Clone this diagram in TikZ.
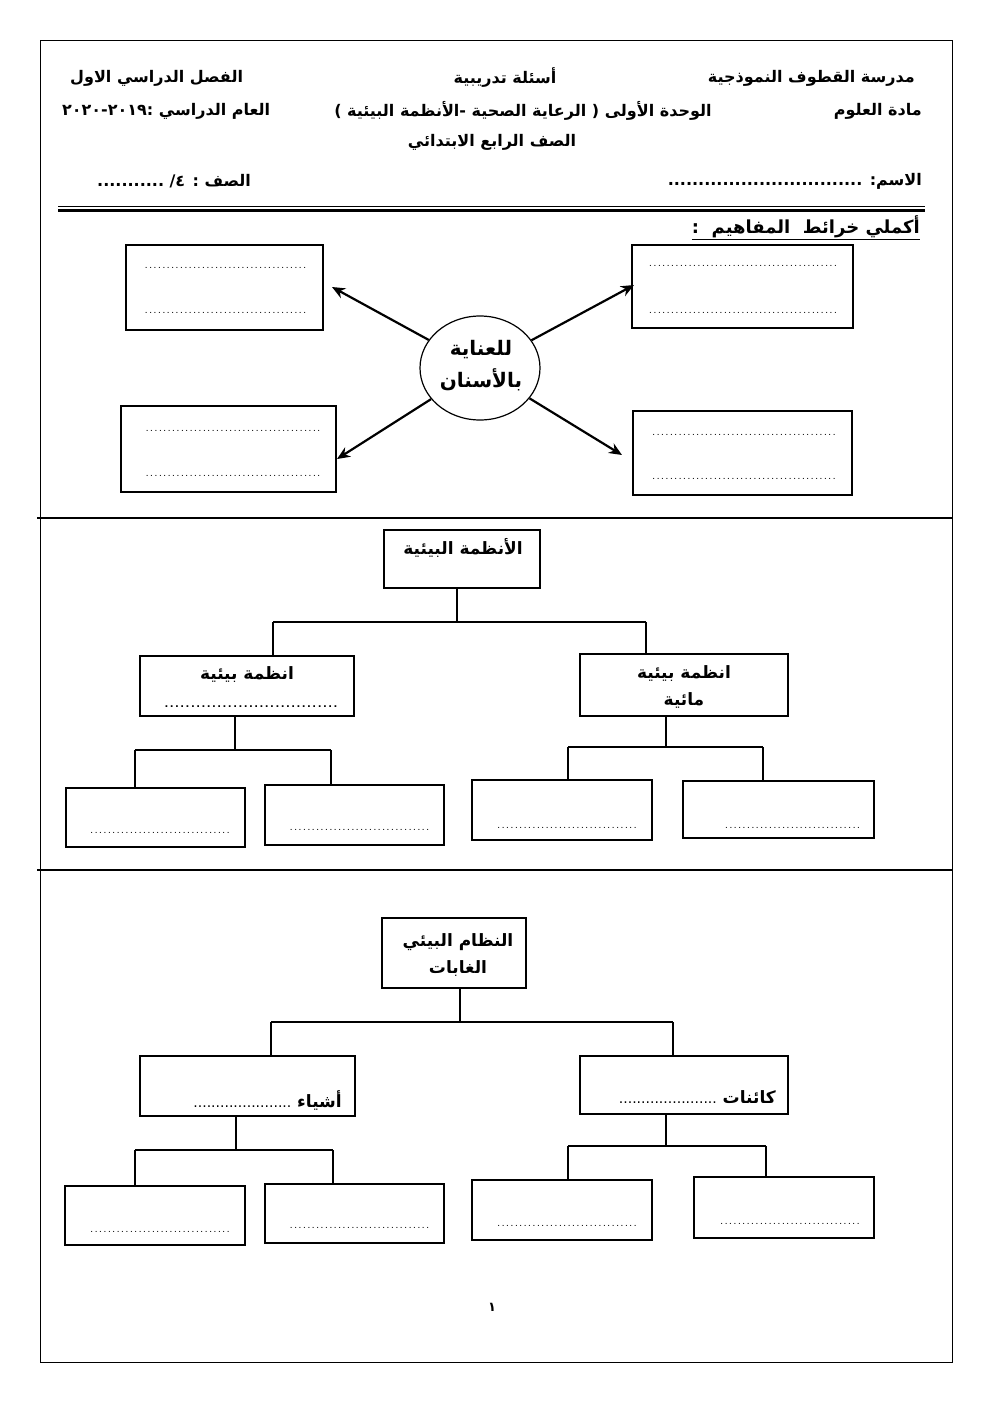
\documentclass[tikz,border=0pt]{standalone}
\usepackage{fontspec}
\setmainfont{Liberation Sans}
\newfontfamily\arfont[Script=Arabic]{DejaVu Sans}
\TeXXeTstate=1
\usetikzlibrary{arrows.meta,shapes.geometric}
\newcommand\AR[1]{{\arfont\bfseries\beginR #1\endR}}
\newcommand\dotrow[1]{{\fontsize{10}{12}\selectfont\makebox[#1]{\dotfill}}}
\newcommand\bdotrow[1]{{\fontsize{12}{14}\selectfont\bfseries\makebox[#1]{\dotfill}}}
\begin{document}
\begin{tikzpicture}[x=1pt,y=-1pt,
  box/.style={draw, line width=1.2pt, inner sep=0pt, minimum width=#1},
  box/.default=100pt,
  hdr/.style={inner sep=0pt, font=\fontsize{16}{18}\selectfont},
  lbl/.style={inner sep=0pt, align=center, font=\fontsize{17}{27}\selectfont},
  dts/.style={inner sep=0pt},
  conn/.style={line width=1.8pt},
  arr/.style={line width=2.2pt, -{Stealth[length=13pt,width=11pt]}},
  divider/.style={line width=2pt}]
\useasboundingbox (0,0) rectangle (992,1403);
% page frame
\draw[line width=1pt] (40,40) rectangle (952,1362);

% ---------- header ----------
\node[hdr, anchor=east] (school) at (915,78) {\AR{مدرسة القطوف النموذجية}};
\node[hdr] (title) at (505,78) {\AR{أسئلة تدريبية}};
\node[hdr, anchor=west] (term) at (70,78) {\AR{الفصل الدراسي الاول}};
\node[hdr, anchor=east] (subject) at (922,111) {\AR{مادة العلوم}};
\node[hdr] (unit) at (523,111) {\AR{الوحدة الأولى ( الرعاية الصحية -الأنظمة البيئية )}};
\node[hdr, anchor=west] (year) at (62,111) {\AR{العام الدراسي :٢٠١٩-٢٠٢٠}};
\node[hdr] (grade) at (492,142) {\AR{الصف الرابع الابتدائي}};
\node[hdr, anchor=east] (name) at (922,181) {\AR{الاسم: ................................}};
\node[hdr, anchor=west] (class) at (97,181) {\AR{الصف : ٤/ ...........}};
\draw[line width=0.8pt] (58,206) -- (925,206);
\draw[line width=2.6pt] (58,210.5) -- (925,210.5);
\node[hdr, anchor=east, font=\fontsize{18}{20}\selectfont] (task) at (920,228) {\underline{\AR{أكملي خرائط \ المفاهيم \ :}}};

% ---------- section 1 ----------
\node[draw, ellipse, line width=1.2pt, minimum width=120pt, minimum height=104pt, inner sep=0pt] (e) at (480,368) {};
\node[lbl, font=\fontsize{20}{32}\selectfont] (etext) at (481,366) {\AR{للعناية}\\\AR{بالأسنان}};

\node[box=197pt, minimum height=85pt] (tl) at (224.5,287.5) {};
\node[box=221pt, minimum height=83pt] (tr) at (742.5,286.5) {};
\node[box=215pt, minimum height=86pt] (bl) at (228.5,449) {};
\node[box=219pt, minimum height=84pt] (br) at (742.5,453) {};

\node[dts] (tl1) at (225.5,268) {\dotrow{167pt}};
\node[dts] (tl2) at (225.5,313) {\dotrow{167pt}};
\node[dts] (tr1) at (743,266) {\dotrow{192pt}};
\node[dts] (tr2) at (743,313) {\dotrow{192pt}};
\node[dts] (bl1) at (233,431) {\dotrow{178pt}};
\node[dts] (bl2) at (233,476) {\dotrow{178pt}};
\node[dts] (br1) at (744,435) {\dotrow{188pt}};
\node[dts] (br2) at (744,479) {\dotrow{188pt}};

\coordinate (atl) at (332,287);
\coordinate (atr) at (634,285);
\coordinate (abl) at (337,459);
\coordinate (abr) at (622,455);
\draw[arr] (e) -- (atl);
\draw[arr] (e) -- (atr);
\draw[arr] (e) -- (abl);
\draw[arr] (e) -- (abr);

\draw[divider] (37,518) -- (953,518);

% ---------- section 2 ----------
\node[box=156pt, minimum height=58pt] (s2top) at (462,559) {};
\node[lbl] (s2toptext) at (463,548) {\AR{الأنظمة البيئية}};
\node[box=214pt, minimum height=60pt] (s2l) at (247,686) {};
\node[lbl] (s2ltext) at (247,675) {\AR{انظمة بيئية}};
\node[dts] (s2ldots) at (251,707) {\bdotrow{177pt}};
\node[box=208pt, minimum height=62pt] (s2r) at (684,685) {};
\node[lbl] (s2rtext) at (684,687) {\AR{انظمة بيئية}\\\AR{مائية}};

\node[box=179pt, minimum height=59pt] (b1) at (155.5,817.5) {};
\node[box=179pt, minimum height=60pt] (b2) at (354.5,815) {};
\node[box=180pt, minimum height=60pt] (b3) at (562,810) {};
\node[box=191pt, minimum height=57pt] (b4) at (778.5,809.5) {};
\node[dts] (b1d) at (160,833) {\dotrow{144pt}};
\node[dts] (b2d) at (359.5,830) {\dotrow{143pt}};
\node[dts] (b3d) at (567,828) {\dotrow{142pt}};
\node[dts] (b4d) at (792.5,828) {\dotrow{139pt}};

\coordinate (j2) at (457,622);
\coordinate (j2l) at (273,622);
\coordinate (j2r) at (646,622);
\draw[conn] (j2 |- s2top.south) -- (j2);
\draw[conn] (j2l) -- (j2r);
\draw[conn] (j2l) -- (j2l |- s2l.north);
\draw[conn] (j2r) -- (j2r |- s2r.north);

\coordinate (k2) at (235,750);
\coordinate (k2l) at (135,750);
\coordinate (k2r) at (331,750);
\draw[conn] (k2 |- s2l.south) -- (k2);
\draw[conn] (k2l) -- (k2r);
\draw[conn] (k2l) -- (k2l |- b1.north);
\draw[conn] (k2r) -- (k2r |- b2.north);

\coordinate (m2) at (666,747);
\coordinate (m2l) at (568,747);
\coordinate (m2r) at (763,747);
\draw[conn] (m2 |- s2r.south) -- (m2);
\draw[conn] (m2l) -- (m2r);
\draw[conn] (m2l) -- (m2l |- b3.north);
\draw[conn] (m2r) -- (m2r |- b4.north);

\draw[divider] (37,870) -- (953,870);

% ---------- section 3 ----------
\node[box=144pt, minimum height=70pt] (s3top) at (454,953) {};
\node[lbl] (s3toptext) at (458,955) {\AR{النظام البيئي}\\\AR{الغابات}};
\node[box=215pt, minimum height=60pt] (s3l) at (247.5,1086) {};
\node[lbl, anchor=east] (s3ltext) at (342,1100) {\AR{أشياء {\mdseries\fontsize{14}{16}\selectfont ......................}}};
\node[box=208pt, minimum height=58pt] (s3r) at (684,1085) {};
\node[lbl, anchor=east] (s3rtext) at (776,1097) {\AR{كائنات {\mdseries\fontsize{14}{16}\selectfont ......................}}};

\node[box=180pt, minimum height=59pt] (c1) at (155,1215.5) {};
\node[box=179pt, minimum height=59pt] (c2) at (354.5,1213.5) {};
\node[box=180pt, minimum height=60pt] (c3) at (562,1210) {};
\node[box=180pt, minimum height=61pt] (c4) at (784,1207.5) {};
\node[dts] (c1d) at (160,1232) {\dotrow{144pt}};
\node[dts] (c2d) at (359.5,1228) {\dotrow{143pt}};
\node[dts] (c3d) at (567,1226) {\dotrow{142pt}};
\node[dts] (c4d) at (790,1224) {\dotrow{144pt}};

\coordinate (j3) at (460,1022);
\coordinate (j3l) at (271,1022);
\coordinate (j3r) at (673,1022);
\draw[conn] (j3 |- s3top.south) -- (j3);
\draw[conn] (j3l) -- (j3r);
\draw[conn] (j3l) -- (j3l |- s3l.north);
\draw[conn] (j3r) -- (j3r |- s3r.north);

\coordinate (k3) at (236,1150);
\coordinate (k3l) at (135,1150);
\coordinate (k3r) at (333,1150);
\draw[conn] (k3 |- s3l.south) -- (k3);
\draw[conn] (k3l) -- (k3r);
\draw[conn] (k3l) -- (k3l |- c1.north);
\draw[conn] (k3r) -- (k3r |- c2.north);

\coordinate (m3) at (666,1146);
\coordinate (m3l) at (568,1146);
\coordinate (m3r) at (766,1146);
\draw[conn] (m3 |- s3r.south) -- (m3);
\draw[conn] (m3l) -- (m3r);
\draw[conn] (m3l) -- (m3l |- c3.north);
\draw[conn] (m3r) -- (m3r |- c4.north);

% page number
\node[hdr, font=\fontsize{13}{15}\selectfont] (pnum) at (492,1307) {\AR{١}};
\end{tikzpicture}
\end{document}
